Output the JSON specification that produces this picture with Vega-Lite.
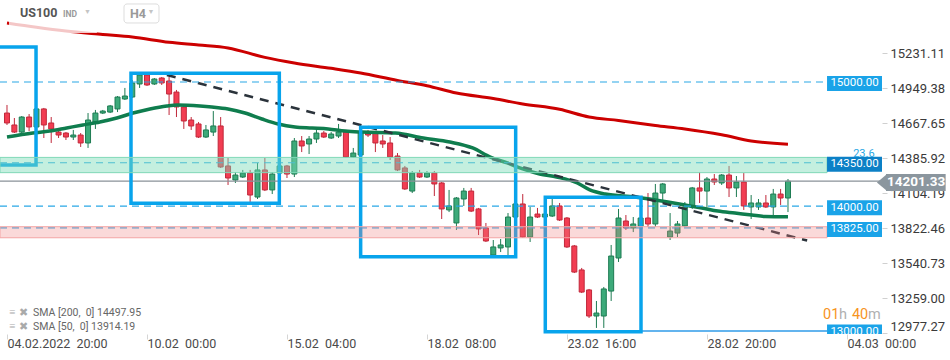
{
  "$schema": "https://vega.github.io/schema/vega-lite/v6.json",
  "width": 882,
  "height": 334,
  "autosize": {"type": "none"},
  "padding": {"left": 0, "top": 0, "right": 68, "bottom": 26},
  "background": "white",
  "config": {"view": {"stroke": null}, "font": "Roboto", "text": {"font": "Roboto"}},
  "datasets": {
    "candles": [
      {"i":0,"o":14750,"h":14815,"l":14654,"c":14670},{"i":1,"o":14654,"h":14710,"l":14589,"c":14597},{"i":2,"o":14597,"h":14726,"l":14589,"c":14718},{"i":3,"o":14718,"h":14742,"l":14605,"c":14638},{"i":4,"o":14638,"h":14791,"l":14630,"c":14783},{"i":5,"o":14783,"h":14791,"l":14549,"c":14654},{"i":6,"o":14670,"h":14718,"l":14509,"c":14622},{"i":7,"o":14597,"h":14622,"l":14549,"c":14573},{"i":8,"o":14589,"h":14597,"l":14533,"c":14557},{"i":9,"o":14557,"h":14614,"l":14533,"c":14573},
      {"i":10,"o":14573,"h":14589,"l":14477,"c":14509},{"i":11,"o":14509,"h":14750,"l":14469,"c":14694},{"i":12,"o":14678,"h":14775,"l":14622,"c":14750},{"i":13,"o":14750,"h":14775,"l":14742,"c":14766},{"i":14,"o":14758,"h":14815,"l":14750,"c":14807},{"i":15,"o":14783,"h":14887,"l":14758,"c":14879},{"i":16,"o":14863,"h":14952,"l":14855,"c":14887},{"i":17,"o":14879,"h":15016,"l":14871,"c":14992},{"i":18,"o":14984,"h":15072,"l":14952,"c":15056},{"i":19,"o":15056,"h":15072,"l":14968,"c":14976},
      {"i":20,"o":14984,"h":15032,"l":14976,"c":15024},{"i":21,"o":15032,"h":15040,"l":14976,"c":14992},{"i":22,"o":15008,"h":15040,"l":14734,"c":14903},{"i":23,"o":14919,"h":14936,"l":14718,"c":14799},{"i":24,"o":14799,"h":14815,"l":14622,"c":14686},{"i":25,"o":14694,"h":14718,"l":14614,"c":14646},{"i":26,"o":14662,"h":14678,"l":14549,"c":14557},{"i":27,"o":14557,"h":14654,"l":14549,"c":14614},{"i":28,"o":14597,"h":14766,"l":14565,"c":14646},{"i":29,"o":14646,"h":14718,"l":14308,"c":14316},
      {"i":30,"o":14324,"h":14388,"l":14171,"c":14227},{"i":31,"o":14211,"h":14275,"l":14187,"c":14251},{"i":32,"o":14235,"h":14292,"l":14227,"c":14267},{"i":33,"o":14267,"h":14292,"l":14034,"c":14090},{"i":34,"o":14074,"h":14348,"l":14058,"c":14292},{"i":35,"o":14292,"h":14388,"l":14122,"c":14131},{"i":36,"o":14131,"h":14275,"l":14098,"c":14259},{"i":37,"o":14267,"h":14340,"l":14251,"c":14324},{"i":38,"o":14324,"h":14332,"l":14227,"c":14259},{"i":39,"o":14259,"h":14549,"l":14235,"c":14525},
      {"i":40,"o":14525,"h":14565,"l":14436,"c":14485},{"i":41,"o":14501,"h":14565,"l":14420,"c":14541},{"i":42,"o":14541,"h":14614,"l":14509,"c":14589},{"i":43,"o":14589,"h":14605,"l":14549,"c":14557},{"i":44,"o":14549,"h":14597,"l":14541,"c":14581},{"i":45,"o":14565,"h":14662,"l":14549,"c":14597},{"i":46,"o":14597,"h":14614,"l":14388,"c":14396},{"i":47,"o":14396,"h":14469,"l":14388,"c":14428},{"i":48,"o":14412,"h":14630,"l":14404,"c":14589},{"i":49,"o":14597,"h":14614,"l":14557,"c":14573},
      {"i":50,"o":14589,"h":14597,"l":14436,"c":14509},{"i":51,"o":14525,"h":14573,"l":14469,"c":14501},{"i":52,"o":14509,"h":14557,"l":14372,"c":14396},{"i":53,"o":14404,"h":14428,"l":14283,"c":14292},{"i":54,"o":14308,"h":14324,"l":14131,"c":14139},{"i":55,"o":14122,"h":14283,"l":14106,"c":14267},{"i":56,"o":14267,"h":14292,"l":14227,"c":14235},{"i":57,"o":14235,"h":14283,"l":14227,"c":14267},{"i":58,"o":14267,"h":14283,"l":14082,"c":14179},{"i":59,"o":14187,"h":14195,"l":13897,"c":13978},
      {"i":60,"o":13970,"h":14131,"l":13953,"c":14002},{"i":61,"o":13865,"h":14074,"l":13809,"c":14066},{"i":62,"o":14058,"h":14147,"l":14002,"c":14122},{"i":63,"o":14122,"h":14147,"l":13953,"c":13961},{"i":64,"o":13978,"h":13986,"l":13768,"c":13817},{"i":65,"o":13825,"h":13865,"l":13712,"c":13720},{"i":66,"o":13607,"h":13728,"l":13599,"c":13672},{"i":67,"o":13664,"h":13736,"l":13631,"c":13688},{"i":68,"o":13672,"h":13945,"l":13607,"c":13913},{"i":69,"o":13913,"h":14050,"l":13889,"c":14018},
      {"i":70,"o":14018,"h":14098,"l":13744,"c":13752},{"i":71,"o":13752,"h":13994,"l":13712,"c":13913},{"i":72,"o":13937,"h":13986,"l":13905,"c":13913},{"i":73,"o":13913,"h":13945,"l":13905,"c":13937},{"i":74,"o":13921,"h":14058,"l":13913,"c":14002},{"i":75,"o":14002,"h":14026,"l":13881,"c":13889},{"i":76,"o":13905,"h":13913,"l":13664,"c":13672},{"i":77,"o":13680,"h":13688,"l":13462,"c":13470},{"i":78,"o":13487,"h":13503,"l":13301,"c":13309},{"i":79,"o":13326,"h":13334,"l":13100,"c":13116},
      {"i":80,"o":13116,"h":13237,"l":13020,"c":13140},{"i":81,"o":13116,"h":13350,"l":13020,"c":13334},{"i":82,"o":13317,"h":13688,"l":13237,"c":13599},{"i":83,"o":13583,"h":13978,"l":13551,"c":13905},{"i":84,"o":13881,"h":13929,"l":13809,"c":13825},{"i":85,"o":13825,"h":13913,"l":13792,"c":13857},{"i":86,"o":13841,"h":13921,"l":13825,"c":13905},{"i":87,"o":13905,"h":14106,"l":13833,"c":13857},{"i":88,"o":13857,"h":14179,"l":13833,"c":14106},{"i":89,"o":14106,"h":14187,"l":14050,"c":14179},
      {"i":90,"o":13752,"h":13945,"l":13728,"c":13800},{"i":91,"o":13784,"h":13881,"l":13752,"c":13857},{"i":92,"o":13841,"h":14034,"l":13833,"c":13994},{"i":93,"o":13994,"h":14155,"l":13978,"c":14147},{"i":94,"o":14147,"h":14275,"l":14026,"c":14122},{"i":95,"o":14122,"h":14235,"l":13994,"c":14219},{"i":96,"o":14219,"h":14259,"l":14171,"c":14195},{"i":97,"o":14187,"h":14259,"l":14171,"c":14251},{"i":98,"o":14251,"h":14324,"l":14074,"c":14147},{"i":99,"o":14147,"h":14243,"l":14074,"c":14195},
      {"i":100,"o":14195,"h":14267,"l":13970,"c":14002},{"i":101,"o":13994,"h":14090,"l":13897,"c":14026},{"i":102,"o":13994,"h":14058,"l":13970,"c":14026},{"i":103,"o":14026,"h":14090,"l":13986,"c":13994},{"i":104,"o":13994,"h":14139,"l":13929,"c":14098},{"i":105,"o":14098,"h":14139,"l":14010,"c":14066},{"i":106,"o":14066,"h":14219,"l":13953,"c":14201.33}
    ],
    "sma200": [
      {"i":0,"p":15475},{"i":4,"p":15440},{"i":8,"p":15410},{"i":13,"p":15383},{"i":17,"p":15362},{"i":22,"p":15320},{"i":26,"p":15298},{"i":30,"p":15274},{"i":35,"p":15198},{"i":39,"p":15153},{"i":44,"p":15110},{"i":48,"p":15072},{"i":53,"p":15012},{"i":57,"p":14970},{"i":61,"p":14911},{"i":66,"p":14867},{"i":70,"p":14823},{"i":75,"p":14780},{"i":79,"p":14718},{"i":83,"p":14690},{"i":88,"p":14650},{"i":92,"p":14622},{"i":97,"p":14575},{"i":101,"p":14525},{"i":106,"p":14498}
    ],
    "sma50": [
      {"i":0,"p":14557},{"i":3.5,"p":14589},{"i":5.8,"p":14605},{"i":8.1,"p":14630},{"i":10.3,"p":14654},{"i":12.6,"p":14678},{"i":14.9,"p":14710},{"i":17.1,"p":14750},{"i":19.4,"p":14783},{"i":21.7,"p":14807},{"i":23.1,"p":14815},{"i":26.2,"p":14807},{"i":27.8,"p":14799},{"i":30,"p":14783},{"i":32.3,"p":14750},{"i":34.6,"p":14702},{"i":36.8,"p":14662},{"i":39.1,"p":14638},{"i":41.4,"p":14630},{"i":43.6,"p":14622},{"i":45.9,"p":14605},{"i":48.2,"p":14597},{"i":52.7,"p":14589},{"i":56.5,"p":14549},{"i":60.1,"p":14517},{"i":63.2,"p":14469},{"i":65.6,"p":14396},{"i":67.9,"p":14348},{"i":70,"p":14300},{"i":72.3,"p":14259},{"i":74.6,"p":14235},{"i":77.4,"p":14187},{"i":79.1,"p":14131},{"i":81.2,"p":14098},{"i":85.2,"p":14074},{"i":89.7,"p":14034},{"i":92,"p":14010},{"i":94.3,"p":13986},{"i":96.5,"p":13961},{"i":98.8,"p":13945},{"i":101.1,"p":13929},{"i":102.9,"p":13917},{"i":106,"p":13914.19}
    ]
  },
  "layer": [
    {
      "data": {"name": "candles"},
      "mark": {"type": "rule", "strokeWidth": 1},
      "encoding": {
        "x": {"field": "i", "type": "quantitative", "scale": {"domain": [-0.95, 118.76], "nice": false, "zero": false, "padding": 0},
          "axis": {"title": null, "orient": "bottom", "values": [0, 19, 38, 57, 76, 95, 114], "grid": false, "domain": false,
            "tickColor": "#d5d5d5", "tickSize": 5, "labelAlign": "left", "labelPadding": -2, "labelFontSize": 12.5, "labelColor": "#4a4a4a",
            "labelFont": "Roboto", "labelFlush": false, "labelOverlap": false, "labelBound": false,
            "labelExpr": "datum.value == 0 ? '04.02.2022\u00a0 20:00' : datum.value == 19 ? '10.02\u00a0 00:00' : datum.value == 38 ? '15.02\u00a0 04:00' : datum.value == 57 ? '18.02\u00a0 08:00' : datum.value == 76 ? '23.02\u00a0 16:00' : datum.value == 95 ? '28.02\u00a0 20:00' : '04.03\u00a0 00:00'"}},
        "y": {"field": "l", "type": "quantitative", "scale": {"domain": [12971.3, 15660], "nice": false, "zero": false, "padding": 0},
          "axis": {"title": null, "orient": "right", "values": [15231.11, 14949.38, 14667.65, 14385.92, 14104.19, 13822.46, 13540.73, 13259.00, 12977.27],
            "format": ".2f", "grid": false, "domain": false, "tickColor": "#d0d0d0", "tickSize": 5, "labelPadding": 3,
            "labelFontSize": 13, "labelColor": "#3a3a3a", "labelFont": "Roboto", "labelFlush": 5, "labelOverlap": false}},
        "y2": {"field": "h"},
        "color": {"condition": {"test": "datum.c >= datum.o", "value": "#1d7b52"}, "value": "#c0283a"}
      }
    },
    {
      "data": {"name": "candles"},
      "mark": {"type": "bar", "width": 5, "strokeWidth": 1},
      "encoding": {
        "x": {"field": "i", "type": "quantitative"},
        "y": {"field": "o", "type": "quantitative"},
        "y2": {"field": "c"},
        "fill": {"condition": {"test": "datum.c >= datum.o", "value": "#3daa7a"}, "value": "#f23d52"},
        "stroke": {"condition": {"test": "datum.c >= datum.o", "value": "#1d7b52"}, "value": "#c0283a"}
      }
    },
    {
      "data": {"name": "sma200"},
      "mark": {"type": "line", "color": "#cc0000", "strokeWidth": 3, "interpolate": "monotone"},
      "encoding": {"x": {"field": "i", "type": "quantitative"}, "y": {"field": "p", "type": "quantitative"}}
    },
    {
      "data": {"name": "sma50"},
      "mark": {"type": "line", "color": "#0f7d4e", "strokeWidth": 3.5, "interpolate": "monotone"},
      "encoding": {"x": {"field": "i", "type": "quantitative"}, "y": {"field": "p", "type": "quantitative"}}
    },
    {
      "data": {"values": [{"i": 21.7, "p": 15056}, {"i": 108.6, "p": 13724}]},
      "mark": {"type": "line", "color": "#2b333b", "strokeWidth": 2.5, "strokeDash": [9, 7]},
      "encoding": {"x": {"field": "i", "type": "quantitative"}, "y": {"field": "p", "type": "quantitative"}}
    },
    {
      "data": {"values": [{"i": -0.95, "i2": 111.3, "p": 15000}, {"i": -0.95, "i2": 111.3, "p": 14000}, {"i": -0.95, "i2": 111.3, "p": 14350}, {"i": -0.95, "i2": 111.3, "p": 13825}]},
      "mark": {"type": "rule", "color": "#2aa8e6", "strokeWidth": 1.2, "strokeDash": [7, 5]},
      "encoding": {"x": {"field": "i", "type": "quantitative"}, "x2": {"field": "i2"}, "y": {"field": "p", "type": "quantitative"}}
    },
    {
      "data": {"values": [{"i": -0.95, "i2": 118.76, "p": 14201.33}]},
      "mark": {"type": "rule", "color": "#8a9299", "strokeWidth": 1.3},
      "encoding": {"x": {"field": "i", "type": "quantitative"}, "x2": {"field": "i2"}, "y": {"field": "p", "type": "quantitative"}}
    },
    {
      "data": {"values": [{"i": 73, "i2": 111.3, "p": 12995}]},
      "mark": {"type": "rule", "color": "#2f9be8", "strokeWidth": 1.5},
      "encoding": {"x": {"field": "i", "type": "quantitative"}, "x2": {"field": "i2"}, "y": {"field": "p", "type": "quantitative"}}
    },
    {
      "data": {"values": [
        {"i": -1.63, "i2": 3.94, "p": 15282, "p2": 14332},
        {"i": 16.83, "i2": 36.96, "p": 15070, "p2": 14023},
        {"i": 48.0, "i2": 69.04, "p": 14635, "p2": 13594},
        {"i": 73.06, "i2": 86.05, "p": 14072, "p2": 12990}
      ]},
      "mark": {"type": "rect", "filled": false, "color": "#08a4ec", "strokeWidth": 3.5, "clip": true},
      "encoding": {"x": {"field": "i", "type": "quantitative"}, "x2": {"field": "i2"}, "y": {"field": "p", "type": "quantitative"}, "y2": {"field": "p2"}}
    },
    {
      "data": {"values": [{"i": -0.95, "i2": 111.3, "p": 14393, "p2": 14270}]},
      "mark": {"type": "rect", "fill": "#7ddbb8", "fillOpacity": 0.45, "stroke": "#80d8b7", "strokeWidth": 1},
      "encoding": {"x": {"field": "i", "type": "quantitative"}, "x2": {"field": "i2"}, "y": {"field": "p", "type": "quantitative"}, "y2": {"field": "p2"}}
    },
    {
      "data": {"values": [{"i": -0.95, "i2": 111.3, "p": 13835, "p2": 13746}]},
      "mark": {"type": "rect", "fill": "#f08080", "fillOpacity": 0.3, "stroke": "#f3a5a5", "strokeWidth": 1},
      "encoding": {"x": {"field": "i", "type": "quantitative"}, "x2": {"field": "i2"}, "y": {"field": "p", "type": "quantitative"}, "y2": {"field": "p2"}}
    },
    {
      "data": {"values": [{"i": 0.27, "i2": 12.2, "p": 15660, "p2": 15394}]},
      "mark": {"type": "rect", "fill": "white", "fillOpacity": 0.78},
      "encoding": {"x": {"field": "i", "type": "quantitative"}, "x2": {"field": "i2"}, "y": {"field": "p", "type": "quantitative"}, "y2": {"field": "p2"}}
    },
    {
      "data": {"values": [
        {"i": 111.3, "i2": 118.76, "p": 15048, "p2": 14928},
        {"i": 111.3, "i2": 118.76, "p": 14048, "p2": 13928},
        {"i": 111.3, "i2": 118.76, "p": 13873, "p2": 13753},
        {"i": 111.3, "i2": 118.76, "p": 13048, "p2": 12928}
      ]},
      "mark": {"type": "rect", "fill": "#1aa3e8", "clip": true},
      "encoding": {"x": {"field": "i", "type": "quantitative"}, "x2": {"field": "i2"}, "y": {"field": "p", "type": "quantitative"}, "y2": {"field": "p2"}}
    },
    {
      "data": {"values": [{"i": 111.3, "i2": 118.76, "p": 14398, "p2": 14278}]},
      "mark": {"type": "rect", "fill": "#0c80c6"},
      "encoding": {"x": {"field": "i", "type": "quantitative"}, "x2": {"field": "i2"}, "y": {"field": "p", "type": "quantitative"}, "y2": {"field": "p2"}}
    },
    {
      "data": {"values": [
        {"i": 115.03, "p": 14988, "t": "15000.00"},
        {"i": 115.03, "p": 14338, "t": "14350.00"},
        {"i": 115.03, "p": 13988, "t": "14000.00"},
        {"i": 115.03, "p": 13813, "t": "13825.00"},
        {"i": 115.03, "p": 12988, "t": "13000.00"}
      ]},
      "mark": {"type": "text", "color": "white", "fontSize": 11.5, "align": "center", "baseline": "middle", "clip": true},
      "encoding": {"x": {"field": "i", "type": "quantitative"}, "y": {"field": "p", "type": "quantitative"}, "text": {"field": "t"}}
    },
    {
      "data": {"values": [{"i": 119.3, "i2": 127.4, "p": 14259, "p2": 14123}]},
      "mark": {"type": "rect", "fill": "#8b969e"},
      "encoding": {"x": {"field": "i", "type": "quantitative"}, "x2": {"field": "i2"}, "y": {"field": "p", "type": "quantitative"}, "y2": {"field": "p2"}}
    },
    {
      "data": {"values": [{"i": 118.76, "p": 14191}]},
      "mark": {"type": "point", "shape": "M -0.6 0 L 0.6 -1 L 0.6 1 Z", "size": 289, "filled": true, "color": "#8b969e", "opacity": 1},
      "encoding": {"x": {"field": "i", "type": "quantitative"}, "y": {"field": "p", "type": "quantitative"}}
    },
    {
      "data": {"values": [{"i": 123.4, "p": 14191, "t": "14201.33"}]},
      "mark": {"type": "text", "color": "white", "fontSize": 13.5, "fontWeight": "bold", "align": "center", "baseline": "middle"},
      "encoding": {"x": {"field": "i", "type": "quantitative"}, "y": {"field": "p", "type": "quantitative"}, "text": {"field": "t"}}
    },
    {
      "data": {"values": [{"i": 116.3, "p": 14420, "t": "23.6"}]},
      "mark": {"type": "text", "color": "#2aa7e4", "fontSize": 11, "align": "center", "baseline": "middle"},
      "encoding": {"x": {"field": "i", "type": "quantitative"}, "y": {"field": "p", "type": "quantitative"}, "text": {"field": "t"}}
    },
    {
      "data": {"values": [{"i": 15.88, "i2": 20.63, "p": 15628, "p2": 15475}]},
      "mark": {"type": "rect", "fill": "white", "stroke": "#dddddd", "strokeWidth": 1, "cornerRadius": 3},
      "encoding": {"x": {"field": "i", "type": "quantitative"}, "x2": {"field": "i2"}, "y": {"field": "p", "type": "quantitative"}, "y2": {"field": "p2"}}
    },
    {
      "data": {"values": [{"i": 1.76, "p": 15553, "t": "US100"}]},
      "mark": {"type": "text", "color": "#555555", "fontSize": 12.5, "fontWeight": "bold", "align": "left", "baseline": "middle"},
      "encoding": {"x": {"field": "i", "type": "quantitative"}, "y": {"field": "p", "type": "quantitative"}, "text": {"field": "t"}}
    },
    {
      "data": {"values": [{"i": 7.6, "p": 15551, "t": "IND"}, {"i": 16.69, "p": 15551, "t": "H4"}]},
      "mark": {"type": "text", "color": "#9a9a9a", "fontSize": 8.5, "fontWeight": "bold", "align": "left", "baseline": "middle"},
      "encoding": {"x": {"field": "i", "type": "quantitative"}, "y": {"field": "p", "type": "quantitative"}, "text": {"field": "t"},
        "size": {"condition": {"test": "datum.t == 'H4'", "value": 12.5}, "value": 8.5}}
    },
    {
      "data": {"values": [{"i": 10.93, "p": 15560, "t": "▼"}, {"i": 19.54, "p": 15560, "t": "▼"}]},
      "mark": {"type": "text", "color": "#c4c4c4", "fontSize": 7, "align": "center", "baseline": "middle"},
      "encoding": {"x": {"field": "i", "type": "quantitative"}, "y": {"field": "p", "type": "quantitative"}, "text": {"field": "t"}}
    },
    {
      "data": {"values": [{"i": 0.7, "p": 13140, "t": "≡"}, {"i": 0.7, "p": 13028, "t": "≡"}, {"i": 2.3, "p": 13140, "t": "✖"}, {"i": 2.3, "p": 13028, "t": "✖"}]},
      "mark": {"type": "text", "color": "#aaaaaa", "fontSize": 11, "align": "center", "baseline": "middle"},
      "encoding": {"x": {"field": "i", "type": "quantitative"}, "y": {"field": "p", "type": "quantitative"}, "text": {"field": "t"}}
    },
    {
      "data": {"values": [{"i": 3.53, "p": 13140, "t": "SMA [200,\u00a0 0] 14497.95"}, {"i": 3.53, "p": 13028, "t": "SMA [50,\u00a0 0] 13914.19"}]},
      "mark": {"type": "text", "color": "#666666", "fontSize": 10.5, "align": "left", "baseline": "middle"},
      "encoding": {"x": {"field": "i", "type": "quantitative"}, "y": {"field": "p", "type": "quantitative"}, "text": {"field": "t"}}
    },
    {
      "data": {"values": [{"i": 110.75, "p": 13124, "t": "01"}, {"i": 114.68, "p": 13124, "t": "40"}]},
      "mark": {"type": "text", "color": "#f7941d", "fontSize": 14.5, "align": "left", "baseline": "middle"},
      "encoding": {"x": {"field": "i", "type": "quantitative"}, "y": {"field": "p", "type": "quantitative"}, "text": {"field": "t"}}
    },
    {
      "data": {"values": [{"i": 112.92, "p": 13124, "t": "h"}, {"i": 116.86, "p": 13124, "t": "m"}]},
      "mark": {"type": "text", "color": "#b0b0b0", "fontSize": 14.5, "align": "left", "baseline": "middle"},
      "encoding": {"x": {"field": "i", "type": "quantitative"}, "y": {"field": "p", "type": "quantitative"}, "text": {"field": "t"}}
    }
  ]
}
